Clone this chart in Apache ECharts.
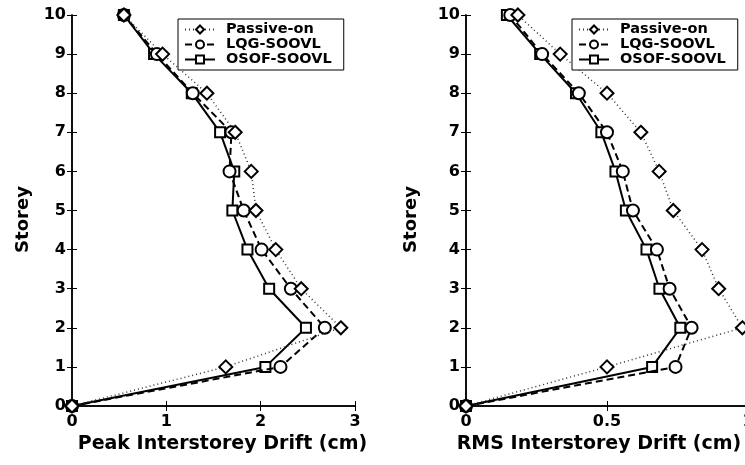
<!DOCTYPE html>
<html>
<head>
<meta charset="utf-8">
<script src="https://cdn.jsdelivr.net/npm/echarts@6/dist/echarts.min.js"></script>
<style>html,body{margin:0;padding:0;background:#fff}#c{width:745px;height:465px}</style>
</head>
<body>
<div id="c"></div>
<script>
var storeys = [0, 1, 2, 3, 4, 5, 6, 7, 8, 9, 10];
var seriesNames = ['Passive-on', 'LQG-SOOVL', 'OSOF-SOOVL'];
var peakPassive = [0, 1.63, 2.85, 2.43, 2.16, 1.95, 1.90, 1.73, 1.43, 0.96, 0.55];
var peakLQG     = [0, 2.21, 2.68, 2.32, 2.01, 1.82, 1.67, 1.69, 1.28, 0.90, 0.55];
var peakOSOF    = [0, 2.05, 2.48, 2.09, 1.86, 1.70, 1.72, 1.57, 1.27, 0.87, 0.55];
var rmsPassive  = [0, 0.50, 0.98, 0.896, 0.837, 0.735, 0.685, 0.62, 0.50, 0.334, 0.184];
var rmsLQG      = [0, 0.743, 0.80, 0.722, 0.677, 0.592, 0.556, 0.50, 0.40, 0.27, 0.157];
var rmsOSOF     = [0, 0.66, 0.76, 0.686, 0.64, 0.567, 0.53, 0.48, 0.39, 0.263, 0.145];
var peakTicks = [0, 1, 2, 3];
var rmsTicks = [0, 0.5, 1];

var FONT = 'DejaVu Sans';
function pairs(xs) { return xs.map(function (x, i) { return [x, storeys[i]]; }); }
var styles = [
  { symbol: 'diamond', size: 13, line: { color: '#333', width: 1.5, type: [1, 3] } },
  { symbol: 'circle', size: 12, line: { color: '#000', width: 2, type: [7, 4] } },
  { symbol: 'rect', size: 10, line: { color: '#000', width: 2, type: 'solid' } }
];
function mkSeries(name, idx, data, axisIdx) {
  var s = styles[idx];
  return {
    name: name, type: 'line', xAxisIndex: axisIdx, yAxisIndex: axisIdx,
    data: pairs(data), symbol: s.symbol, symbolSize: s.size, showSymbol: true,
    lineStyle: s.line,
    itemStyle: { color: '#fff', borderColor: '#000', borderWidth: 2 },
    animation: false, z: 3 - idx
  };
}
var axisLine = { show: true, lineStyle: { color: '#000', width: 1.5 } };
var tick = { show: true, inside: true, length: 5, lineStyle: { color: '#000', width: 1 } };
var lbl = { color: '#000', fontFamily: FONT, fontWeight: 'bold', fontSize: 16 };
function xMain(grid, max, interval, name, pad) {
  return { type: 'value', gridIndex: grid, min: 0, max: max, interval: interval, position: 'bottom',
    axisLine: axisLine, axisTick: tick, splitLine: { show: false },
    axisLabel: Object.assign({ margin: 8 }, lbl),
    name: name, nameLocation: 'middle', nameGap: 25,
    nameTextStyle: { color: '#000', fontFamily: FONT, fontWeight: 'bold', fontSize: 19, padding: pad } };
}
function xTop(grid, max, interval) {
  return { type: 'value', gridIndex: grid, min: 0, max: max, interval: interval, position: 'top',
    axisLine: axisLine, axisTick: tick, splitLine: { show: false }, axisLabel: { show: false } };
}
function yMain(grid, gap) {
  return { type: 'value', gridIndex: grid, min: 0, max: 10, interval: 1, position: 'left',
    axisLine: axisLine, axisTick: tick, splitLine: { show: false },
    axisLabel: Object.assign({ margin: 6 }, lbl),
    name: 'Storey', nameLocation: 'middle', nameGap: gap,
    nameTextStyle: { color: '#000', fontFamily: FONT, fontWeight: 'bold', fontSize: 18, padding: [0, 18, 0, 0] } };
}
function yRight(grid) {
  return { type: 'value', gridIndex: grid, min: 0, max: 10, interval: 1, position: 'right',
    axisLine: axisLine, axisTick: tick, splitLine: { show: false }, axisLabel: { show: false } };
}
function legend(left) {
  return { data: seriesNames, orient: 'vertical', left: left, top: 19,
    backgroundColor: '#fff', borderColor: '#000', borderWidth: 1, padding: [3, 12, 3, 6],
    itemWidth: 30, itemHeight: 10, itemGap: 0, selectedMode: false,
    textStyle: { color: '#000', fontFamily: FONT, fontWeight: 'bold', fontSize: 14.5, padding: [0, 0, 0, 6] } };
}
var chart = echarts.init(document.getElementById('c'), null, { renderer: 'canvas' });
chart.setOption({
  animation: false,
  backgroundColor: '#fff',
  grid: [
    { left: 72, top: 15, width: 283, height: 391, outerBoundsMode: 'none', containLabel: false },
    { left: 466, top: 15, width: 282, height: 391, outerBoundsMode: 'none', containLabel: false }
  ],
  legend: [legend(178), legend(572)],
  xAxis: [
    xMain(0, peakTicks[peakTicks.length - 1], peakTicks[1] - peakTicks[0], 'Peak Interstorey Drift (cm)', [0, 0, 0, 18]),
    xMain(1, rmsTicks[rmsTicks.length - 1], rmsTicks[1] - rmsTicks[0], 'RMS Interstorey Drift (cm)', [0, 16, 0, 0]),
    xTop(0, peakTicks[peakTicks.length - 1], peakTicks[1] - peakTicks[0]),
    xTop(1, rmsTicks[rmsTicks.length - 1], rmsTicks[1] - rmsTicks[0])
  ],
  yAxis: [yMain(0, 40), yMain(1, 46), yRight(0), yRight(1)],
  series: [
    mkSeries(seriesNames[0], 0, peakPassive, 0),
    mkSeries(seriesNames[1], 1, peakLQG, 0),
    mkSeries(seriesNames[2], 2, peakOSOF, 0),
    mkSeries(seriesNames[0], 0, rmsPassive, 1),
    mkSeries(seriesNames[1], 1, rmsLQG, 1),
    mkSeries(seriesNames[2], 2, rmsOSOF, 1)
  ]
});
</script>
</body>
</html>
